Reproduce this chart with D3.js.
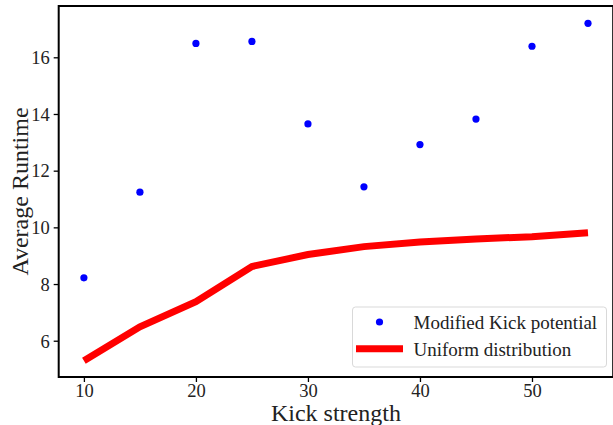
<!DOCTYPE html>
<html>
<head>
<meta charset="utf-8">
<script src="https://cdn.jsdelivr.net/npm/d3@7"></script>
<style>
  html, body { margin: 0; padding: 0; background: #fff; }
  svg { display: block; }
  text { font-family: "Liberation Serif", "DejaVu Serif", serif; fill: #222; }
</style>
</head>
<body>
<svg id="chart" width="613" height="425"></svg>
<script>
// Kick strengths tested
const kickStrength = [10, 15, 20, 25, 30, 35, 40, 45, 50, 55];
// Average runtime using the modified kick potential
const modifiedKick = [8.22, 11.24, 16.49, 16.56, 13.65, 11.43, 12.92, 13.82, 16.39, 17.20];
// Average runtime using a uniform distribution
const uniformDist = [5.29, 6.49, 7.38, 8.62, 9.04, 9.32, 9.48, 9.59, 9.67, 9.81];
const xTicks = [10, 20, 30, 40, 50];
const yTicks = [6, 8, 10, 12, 14, 16];
const seriesNames = ["Modified Kick potential", "Uniform distribution"];

const svg = d3.select("#chart");
const box = { left: 58.7, top: 6, right: 613.2, bottom: 377 };
const serif = '"Liberation Serif", "DejaVu Serif", serif';

const x = d3.scaleLinear().domain([7.75, 57.25]).range([box.left, box.right]);
const y = d3.scaleLinear().domain([4.72, 17.81]).range([box.bottom, box.top]);

// axes
const xAxis = svg.append("g")
  .attr("transform", `translate(0,${box.bottom})`)
  .call(d3.axisBottom(x).tickValues(xTicks).tickSize(5).tickFormat(d3.format("d")));
const yAxis = svg.append("g")
  .attr("transform", `translate(${box.left},0)`)
  .call(d3.axisLeft(y).tickValues(yTicks).tickSize(5).tickPadding(4).tickFormat(d3.format("d")));
[xAxis, yAxis].forEach(g => {
  g.select(".domain").remove();
  g.selectAll(".tick line").attr("stroke", "#000").attr("stroke-width", 1.3);
  g.selectAll(".tick text").attr("font-size", 18.5).attr("fill", "#222")
    .style("font-family", serif);
});
xAxis.selectAll(".tick text").attr("y", 20).attr("dy", 0);
yAxis.selectAll(".tick text").attr("dy", "0.34em");

// frame
svg.append("rect")
  .attr("x", box.left).attr("y", box.top)
  .attr("width", box.right - box.left).attr("height", box.bottom - box.top)
  .attr("fill", "none").attr("stroke", "#000").attr("stroke-width", 2);

// uniform distribution line
svg.append("path")
  .datum(kickStrength.map((k, i) => [k, uniformDist[i]]))
  .attr("fill", "none").attr("stroke", "#ff0000").attr("stroke-width", 7)
  .attr("d", d3.line().x(d => x(d[0])).y(d => y(d[1])));

// modified kick points
svg.append("g").selectAll("circle")
  .data(kickStrength.map((k, i) => [k, modifiedKick[i]]))
  .join("circle")
  .attr("cx", d => x(d[0])).attr("cy", d => y(d[1])).attr("r", 3.6)
  .attr("fill", "#0000ff");

// axis titles
svg.append("text")
  .attr("x", (box.left + box.right) / 2).attr("y", 420.5)
  .attr("text-anchor", "middle").attr("font-size", 24).text("Kick strength");
svg.append("text")
  .attr("transform", `translate(27.5,${(box.top + box.bottom) / 2}) rotate(-90)`)
  .attr("text-anchor", "middle").attr("font-size", 24).text("Average Runtime");

// legend
const lg = svg.append("g");
lg.append("rect").attr("x", 352.5).attr("y", 307).attr("width", 254).attr("height", 60)
  .attr("rx", 3).attr("fill", "#fff").attr("fill-opacity", 0.8)
  .attr("stroke", "#d9d9d9").attr("stroke-width", 1);
lg.append("circle").attr("cx", 379.5).attr("cy", 322).attr("r", 3.6).attr("fill", "#0000ff");
lg.append("line").attr("x1", 356).attr("x2", 403).attr("y1", 348.7).attr("y2", 348.7)
  .attr("stroke", "#ff0000").attr("stroke-width", 7);
lg.selectAll("text.lbl").data(seriesNames).join("text")
  .attr("class", "lbl")
  .attr("x", 413.5).attr("y", (d, i) => 329 + i * 27)
  .attr("font-size", 19).text(d => d);
</script>
</body>
</html>
